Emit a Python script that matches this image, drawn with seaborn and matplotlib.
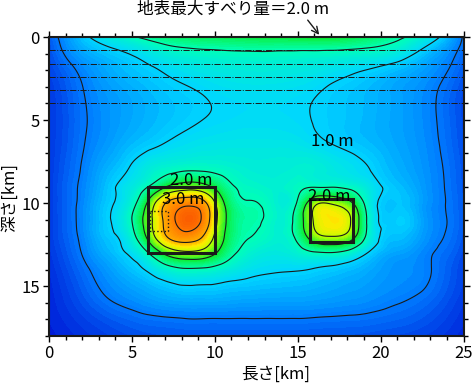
import numpy as np
import matplotlib
matplotlib.use("Agg")
import matplotlib.pyplot as plt
import matplotlib.tri as mtri
from matplotlib.colors import LinearSegmentedColormap
from matplotlib.patches import Rectangle
from matplotlib.ticker import MultipleLocator
import seaborn as sns

# 断層面のすべり量分布 (m)  -- 図から読み取った値
length_km = [0, 1, 2, 3.5, 5, 6, 7, 8.25, 9.5, 10.5, 12, 13.5, 15, 16, 17, 18.25, 19.5, 21, 22.5, 24, 25]
depth_km = [0, 0.8, 2, 3.5, 5, 6.5, 8, 9, 10, 11, 12, 13, 14, 15.5, 17, 18]
slip_m = [
    [0.35, 0.63, 0.90, 1.20, 1.45, 1.60, 1.72, 1.80, 1.85, 1.88, 1.92, 1.95, 1.98, 2.00, 1.99, 1.90, 1.78, 1.58, 1.30, 0.85, 0.47],
    [0.30, 0.55, 0.75, 0.93, 1.08, 1.22, 1.35, 1.44, 1.48, 1.50, 1.52, 1.52, 1.51, 1.51, 1.50, 1.47, 1.42, 1.28, 0.97, 0.65, 0.42],
    [0.25, 0.40, 0.56, 0.75, 0.88, 0.95, 1.03, 1.12, 1.18, 1.22, 1.25, 1.25, 1.22, 1.18, 1.12, 1.05, 0.97, 0.85, 0.70, 0.51, 0.35],
    [0.20, 0.33, 0.48, 0.65, 0.76, 0.83, 0.89, 0.95, 1.01, 1.05, 1.08, 1.08, 1.05, 1.01, 0.95, 0.89, 0.82, 0.72, 0.60, 0.42, 0.28],
    [0.20, 0.32, 0.46, 0.63, 0.75, 0.82, 0.88, 0.95, 1.01, 1.04, 1.07, 1.07, 1.04, 0.99, 0.94, 0.88, 0.81, 0.72, 0.60, 0.42, 0.28],
    [0.20, 0.33, 0.48, 0.67, 0.85, 0.94, 1.02, 1.10, 1.15, 1.17, 1.18, 1.18, 1.15, 1.08, 1.01, 0.93, 0.85, 0.74, 0.62, 0.44, 0.30],
    [0.20, 0.36, 0.52, 0.80, 1.05, 1.25, 1.38, 1.47, 1.46, 1.40, 1.30, 1.28, 1.32, 1.30, 1.22, 1.12, 0.98, 0.80, 0.65, 0.47, 0.32],
    [0.20, 0.38, 0.55, 0.88, 1.20, 1.50, 1.95, 2.25, 2.10, 1.70, 1.40, 1.33, 1.42, 1.47, 1.47, 1.38, 1.12, 0.88, 0.68, 0.48, 0.33],
    [0.20, 0.38, 0.57, 0.92, 1.35, 2.10, 2.98, 3.35, 3.00, 2.05, 1.52, 1.36, 1.55, 2.35, 2.45, 2.05, 1.15, 0.90, 0.70, 0.49, 0.34],
    [0.20, 0.38, 0.58, 0.95, 1.50, 2.30, 3.10, 3.75, 3.20, 2.15, 1.58, 1.38, 1.70, 2.55, 2.80, 2.45, 1.20, 0.95, 0.72, 0.50, 0.35],
    [0.20, 0.37, 0.56, 0.90, 1.35, 2.15, 2.95, 3.30, 2.85, 2.05, 1.52, 1.35, 1.62, 2.30, 2.50, 2.20, 1.20, 0.88, 0.68, 0.48, 0.33],
    [0.18, 0.33, 0.51, 0.80, 1.08, 1.50, 2.10, 2.40, 2.25, 1.80, 1.35, 1.22, 1.32, 1.45, 1.48, 1.30, 0.92, 0.72, 0.58, 0.42, 0.28],
    [0.15, 0.28, 0.43, 0.66, 0.88, 1.05, 1.30, 1.45, 1.42, 1.30, 1.12, 1.04, 1.02, 0.98, 0.93, 0.85, 0.74, 0.63, 0.56, 0.38, 0.25],
    [0.12, 0.22, 0.34, 0.52, 0.65, 0.73, 0.80, 0.85, 0.85, 0.83, 0.80, 0.78, 0.77, 0.75, 0.72, 0.68, 0.63, 0.56, 0.48, 0.33, 0.22],
    [0.10, 0.16, 0.23, 0.33, 0.41, 0.45, 0.47, 0.49, 0.49, 0.49, 0.49, 0.49, 0.49, 0.48, 0.47, 0.46, 0.44, 0.40, 0.34, 0.24, 0.16],
    [0.08, 0.12, 0.17, 0.24, 0.30, 0.33, 0.35, 0.36, 0.36, 0.36, 0.36, 0.36, 0.36, 0.35, 0.35, 0.34, 0.32, 0.29, 0.25, 0.18, 0.12],
]
contour_levels = [0.5, 1.0, 1.5, 2.0, 2.5, 3.0, 3.5]

# アスペリティ (左端, 上端, 幅, 高さ) km
asperity_x = [6.0, 15.75]
asperity_top = [9.0, 9.75]
asperity_w = [4.0, 2.6]
asperity_h = [4.0, 2.6]
small_x, small_top, small_w, small_h = 6.1, 10.45, 1.1, 1.25

layer_depths = [0.8, 1.6, 2.4, 3.2, 4.0]

label_text = ['1.0 m', '2.0 m', '3.0 m', '2.0 m']
label_x = [17.1, 8.6, 8.1, 16.9]
label_depth = [6.3, 8.65, 9.77, 9.6]

surface_max_x = 16.4

sns.set_theme(style="ticks")
plt.rcParams['font.family'] = ['Noto Sans CJK JP', 'DejaVu Sans']
plt.rcParams['text.color'] = 'black'
plt.rcParams['axes.labelcolor'] = 'black'
plt.rcParams['xtick.color'] = 'black'
plt.rcParams['ytick.color'] = 'black'

cmap = LinearSegmentedColormap.from_list('slip', [
    (0.0, (0.0, 0.05, 0.82)),
    (0.125, (0.0, 0.48, 1.0)),
    (0.25, (0.0, 0.84, 1.0)),
    (0.375, (0.0, 1.0, 0.72)),
    (0.5, (0.05, 0.93, 0.2)),
    (0.625, (0.72, 1.0, 0.0)),
    (0.7, (1.0, 0.92, 0.0)),
    (0.75, (1.0, 0.7, 0.0)),
    (0.875, (1.0, 0.48, 0.0)),
    (1.0, (0.97, 0.28, 0.0)),
])

fig = plt.figure(figsize=(4.75, 3.84), dpi=100)
ax = fig.add_axes([0.1032, 0.125, 0.8726, 0.7786])

X, D = np.meshgrid(length_km, depth_km)
z = np.ravel(slip_m)
tri = mtri.Triangulation(X.ravel(), D.ravel())
interp = mtri.CubicTriInterpolator(tri, z, kind='min_E')
tri_f, z_f = mtri.UniformTriRefiner(tri).refine_field(z, triinterpolator=interp, subdiv=4)

ax.tricontourf(tri_f, z_f, levels=np.linspace(0, 4, 81), cmap=cmap, vmin=0, vmax=4, extend='both')
ax.tricontour(tri_f, z_f, levels=contour_levels, colors='k', linewidths=0.8)

for d in layer_depths:
    ax.axhline(d, color='k', lw=0.7, ls='-.')

for x0, d0, w, h in zip(asperity_x, asperity_top, asperity_w, asperity_h):
    ax.add_patch(Rectangle((x0, d0), w, h, fill=False, ec='k', lw=2.2))
ax.add_patch(Rectangle((small_x, small_top), small_w, small_h, fill=False, ec='k', lw=1.0, ls=':'))

for t, lx, ld in zip(label_text, label_x, label_depth):
    ax.text(lx, ld, t, ha='center', va='center', fontsize=12)

ax.annotate('', xy=(surface_max_x, 0), xytext=(15.5, -1.15),
            arrowprops=dict(arrowstyle='->', color='k', lw=1.0), annotation_clip=False)
fig.text(0.49, 0.976, '地表最大すべり量＝2.0 m', ha='center', va='center', fontsize=12)

ax.set_xlim(0, 25)
ax.set_ylim(18, 0)
ax.xaxis.set_major_locator(MultipleLocator(5))
ax.xaxis.set_minor_locator(MultipleLocator(1))
ax.yaxis.set_major_locator(MultipleLocator(5))
ax.yaxis.set_minor_locator(MultipleLocator(1))
ax.tick_params(which='both', direction='out', top=True, right=True, width=1.0, labelsize=12, pad=2)
ax.tick_params(which='major', length=4.5)
ax.tick_params(which='minor', length=3)
for s in ax.spines.values():
    s.set_linewidth(1.5)
    s.set_color('k')

ax.set_xlabel('長さ[km]', fontsize=12)
ax.xaxis.set_label_coords(0.547, -0.1)
fig.text(10 / 475, 1 - 197 / 384, '深さ[km]', rotation=90, ha='center', va='center', fontsize=12)

fig.savefig('out.png', dpi=100)
